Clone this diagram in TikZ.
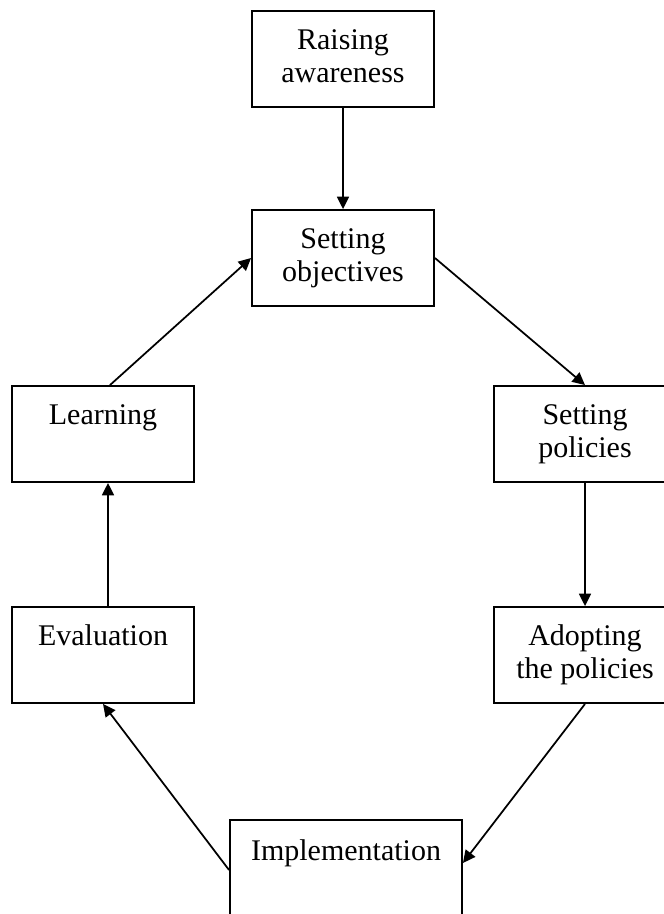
\documentclass[tikz,border=0pt]{standalone}
\usepackage{fontspec}
\setmainfont{Liberation Serif}
\usetikzlibrary{arrows.meta}

\tikzset{
  stagebox/.style={draw, line width=0.75pt, align=center, inner sep=0pt,
    minimum width=72.8pt, minimum height=38.4pt,
    font=\fontsize{12}{13.3}\selectfont},
  flow/.style={-{Triangle[length=5pt,width=4.8pt]}, line width=0.7pt}
}

\begin{document}
\begin{tikzpicture}[x=0.4pt, y=-0.4pt]
\useasboundingbox (0, 0) rectangle (663, 914);

\node[stagebox] (raise) at (343, 59) {\strut Raising\\\strut awareness};
\node[stagebox] (obj) at (343, 258) {\strut Setting\\\strut objectives};
\node[stagebox] (learn) at (103, 434) {\strut Learning\\\strut};
\node[stagebox] (pol) at (585, 434) {\strut Setting\\\strut policies};
\node[stagebox] (eval) at (103, 655) {\strut Evaluation\\\strut};
\node[stagebox] (adopt) at (585, 655) {\strut Adopting\\\strut the policies};
\node[stagebox, minimum width=92.8pt, minimum height=40pt] (impl) at (346, 870) {\strut Implementation\\\strut};

\draw[flow] (raise) -- (obj);
\draw[flow] (obj.east) -- (pol.north);
\draw[flow] (pol) -- (adopt);
\draw[flow] (adopt.south) -- ([yshift=2.8pt]impl.east);
\draw[flow] (impl.west) -- (eval.south);
\draw[flow] ([xshift=2pt]eval.north) -- ([xshift=2pt]learn.south);
\draw[flow] ([xshift=2.8pt]learn.north) -- (obj.west);

\end{tikzpicture}
\end{document}
